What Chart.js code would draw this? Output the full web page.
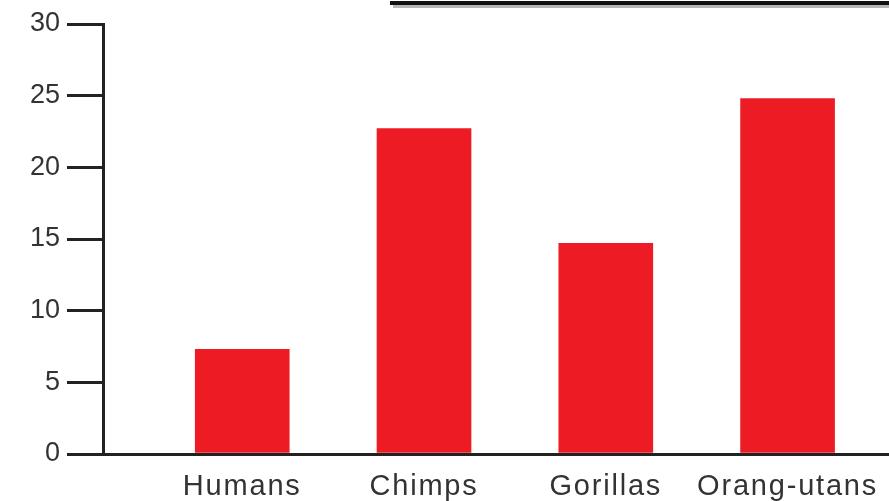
<!DOCTYPE html>
<html>
<head>
<meta charset="utf-8">
<script src="https://cdn.jsdelivr.net/npm/chart.js@4/dist/chart.umd.min.js"></script>
<style>
    body { margin: 0; background: #fff; }
    #wrap { width: 889px; height: 501px; position: relative; }
</style>
</head>
<body>
<div id="wrap"><canvas id="apesChart"></canvas></div>
<script>
const categories = ['Humans', 'Chimps', 'Gorillas', 'Orang-utans'];
const values = [7.3, 22.7, 14.7, 24.8];
const yTicks = [0, 5, 10, 15, 20, 25, 30];

// underline of the cut-off heading at the top
const headingLine = {
    id: 'headingLine',
    afterDraw(chart) {
        const ctx = chart.ctx;
        ctx.save();
        ctx.fillStyle = '#b5b5b5';
        ctx.fillRect(393, 5, chart.width - 393, 3);
        ctx.fillStyle = '#111';
        ctx.fillRect(390, 1, chart.width - 390, 4);
        ctx.restore();
    }
};

// the category labels in the picture are set a bit wider than plain Arial
function widenLabels(scale) {
    if (scale._widened) return;
    const drawLabels = scale.drawLabels.bind(scale);
    scale.drawLabels = function (area) {
        this.ctx.save();
        this.ctx.letterSpacing = '1.8px';
        drawLabels(area);
        this.ctx.restore();
    };
    scale._widened = true;
}

const ctxApes = document.getElementById('apesChart').getContext('2d');
new Chart(ctxApes, {
    type: 'bar',
    data: {
        datasets: [{
            data: categories.map((c, i) => ({ x: i + 1, y: values[i] })),
            backgroundColor: '#ED1C24',
            borderWidth: 0,
            barThickness: 94
        }]
    },
    options: {
        responsive: true,
        maintainAspectRatio: false,
        animation: false,
        layout: {
            padding: { top: 24, left: 0, right: 0, bottom: 0 }
        },
        scales: {
            x: {
                type: 'linear',
                offset: false,
                min: 0.234,
                max: 4.558,
                afterBuildTicks: scale => {
                    scale.ticks = categories.map((c, i) => ({ value: i + 1 }));
                },
                afterFit: scale => { scale.height = 47; },
                afterUpdate: widenLabels,
                ticks: {
                    color: '#333',
                    padding: 8,
                    maxRotation: 0,
                    autoSkip: false,
                    font: { family: 'Liberation Sans', size: 29 },
                    callback: value => categories[value - 1]
                },
                grid: { display: false },
                border: { display: true, color: '#222', width: 3 }
            },
            y: {
                min: 0,
                max: 30,
                afterBuildTicks: scale => {
                    scale.ticks = yTicks.map(v => ({ value: v }));
                },
                afterFit: scale => { scale.width = 103; },
                ticks: {
                    color: '#333',
                    padding: 7,
                    font: { family: 'Liberation Sans', size: 27 }
                },
                grid: {
                    drawOnChartArea: false,
                    drawTicks: true,
                    tickLength: 36,
                    color: '#222',
                    lineWidth: 3
                },
                border: { display: true, color: '#222', width: 3 }
            }
        },
        plugins: {
            legend: { display: false },
            tooltip: { enabled: false }
        }
    },
    plugins: [headingLine]
});
</script>
</body>
</html>
